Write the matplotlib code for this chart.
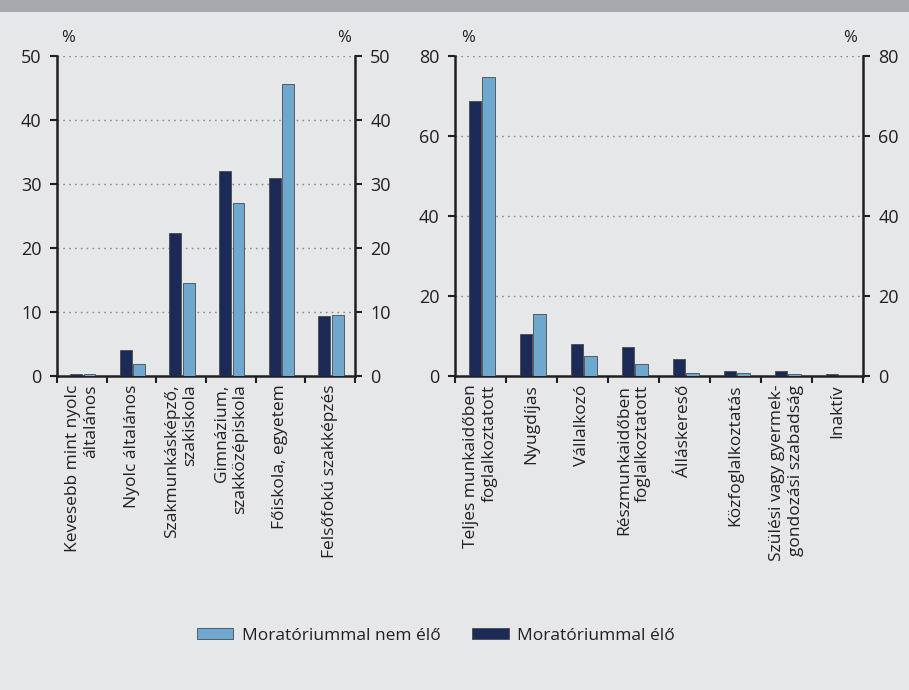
import matplotlib
matplotlib.use("Agg")
import matplotlib.pyplot as plt
from matplotlib.patches import Patch, Rectangle
import numpy as np

plt.rcParams['font.family'] = ['Open Sans', 'DejaVu Sans']

edu_labels = ["Kevesebb mint nyolc\náltalános", "Nyolc általános", "Szakmunkásképző,\nszakiskola",
              "Gimnázium,\nszakközépiskola", "Főiskola, egyetem", "Felsőfokú szakképzés"]
edu_elo = [0.3, 4.0, 22.4, 32.1, 31.0, 9.4]
edu_nem = [0.3, 1.9, 14.6, 27.0, 45.7, 9.6]

job_labels = ["Teljes munkaidőben\nfoglalkoztatott", "Nyugdíjas", "Vállalkozó", "Részmunkaidőben\nfoglalkoztatott",
              "Álláskereső", "Közfoglalkoztatás", "Szülési vagy gyermek-\ngondozási szabadság", "Inaktív"]
job_elo = [68.8, 10.5, 8.0, 7.25, 4.3, 1.25, 1.25, 0.6]
job_nem = [74.8, 15.5, 5.1, 3.0, 0.8, 0.8, 0.6, 0.25]

series_names = ["Moratóriummal nem élő", "Moratóriummal élő"]
left_ticks = [0, 10, 20, 30, 40, 50]
right_ticks = [0, 20, 40, 60, 80]

BG = "#e6e7e9"
DARK = "#1c2a57"
LIGHT = "#6fa8cf"
EDGE = "#4a4a4a"
AX = "#231f20"
TXT = "#231f20"

fig = plt.figure(figsize=(9.09, 6.9), dpi=100)
fig.patch.set_facecolor(BG)
fig.add_artist(Rectangle((0, 1 - 12 / 690), 1, 12 / 690, transform=fig.transFigure,
                         facecolor="#a7a8ab", edgecolor="none"))

def panel(rect, labels, elo, nem, ticks):
    ax = fig.add_axes(rect)
    ax.set_facecolor(BG)
    n = len(labels)
    x = np.arange(n)
    w = 0.24
    ax.bar(x - 0.115, elo, w, color=DARK, edgecolor=EDGE, linewidth=0.6, zorder=3)
    ax.bar(x + 0.155, nem, w, color=LIGHT, edgecolor=EDGE, linewidth=0.6, zorder=3)
    ax.set_xlim(-0.5, n - 0.5)
    ax.set_ylim(ticks[0], ticks[-1])
    ax.set_yticks(ticks)
    for t in ticks[1:]:
        ax.axhline(t, color="#8a8a8a", linestyle=(0, (1.2, 3)), linewidth=1.0, zorder=1)
    ax.tick_params(axis='y', which='both', left=True, right=True, labelleft=True, labelright=True,
                   direction='out', length=5, width=1.5, color=AX, labelsize=13, labelcolor=TXT, pad=6)
    ax.set_xticks(np.arange(n + 1) - 0.5)
    ax.set_xticklabels([])
    ax.tick_params(axis='x', direction='out', length=5, width=1.5, color=AX)
    for s in ['left', 'right', 'bottom']:
        ax.spines[s].set_linewidth(1.8)
        ax.spines[s].set_color(AX)
    ax.spines['top'].set_visible(False)
    for i, lab in enumerate(labels):
        ax.text(i, -0.027, lab, rotation=90, ha='center', va='top', multialignment='right',
                transform=ax.get_xaxis_transform(), fontsize=12.5, color=TXT, linespacing=1.2)
    ax.text(0.015, 1.03, "%", transform=ax.transAxes, ha='left', va='bottom', fontsize=12, color=TXT)
    ax.text(0.985, 1.03, "%", transform=ax.transAxes, ha='right', va='bottom', fontsize=12, color=TXT)
    return ax

ax1 = panel([57 / 909, 1 - 376 / 690, 298 / 909, 320 / 690], edu_labels, edu_elo, edu_nem, left_ticks)
ax2 = panel([455 / 909, 1 - 376 / 690, 408 / 909, 320 / 690], job_labels, job_elo, job_nem, right_ticks)

handles = [Patch(facecolor=LIGHT, edgecolor=EDGE, linewidth=0.6),
           Patch(facecolor=DARK, edgecolor=EDGE, linewidth=0.6)]
fig.legend(handles, series_names, loc='center', bbox_to_anchor=(436 / 909, 1 - 636 / 690), ncol=2,
           frameon=False, fontsize=12.5, handlelength=2.1, handleheight=0.6, columnspacing=1.8,
           handletextpad=0.5, labelcolor=TXT)

fig.savefig("out.png", dpi=100, facecolor=BG)
